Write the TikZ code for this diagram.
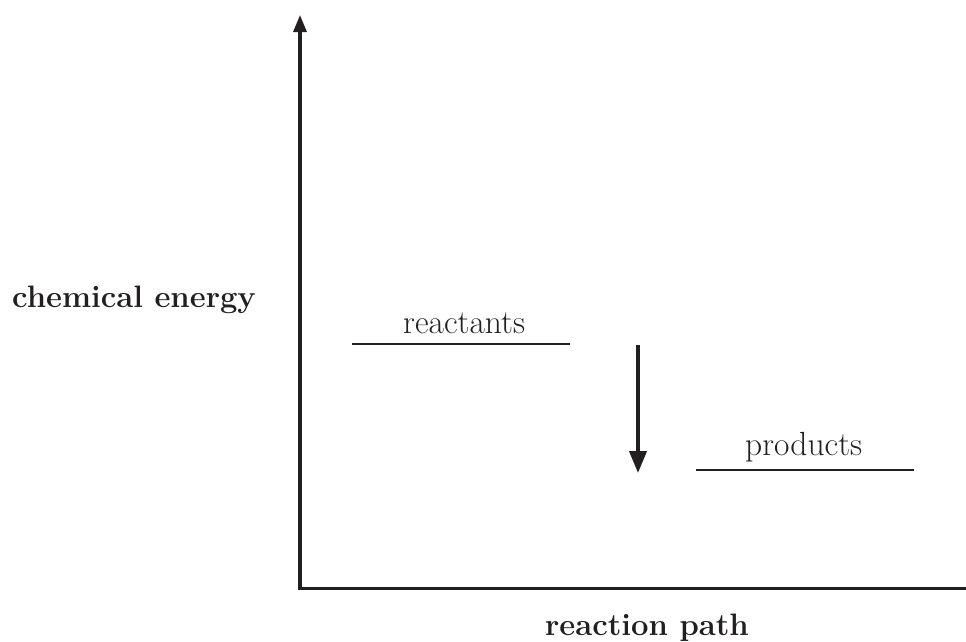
\documentclass[tikz,border=0pt]{standalone}
\usepackage{fontspec}
\usetikzlibrary{arrows.meta}
\definecolor{ink}{HTML}{231F20}
\tikzset{
  axis/.style={draw=ink, line width=3.2pt},
  level/.style={draw=ink, line width=1.5pt},
  lbl/.style={anchor=base west, inner sep=0pt, text=ink, font=\fontsize{33.5}{40}\selectfont},
  axlbl/.style={anchor=base west, inner sep=0pt, text=ink, font=\fontsize{31}{37}\selectfont\bfseries},
}
\begin{document}
\begin{tikzpicture}[x=1pt, y=-1pt]
\useasboundingbox (0,0) rectangle (966,641);
% axes
\coordinate (origin) at (300,588.5);
\coordinate (ytop) at (300,15);
\coordinate (xend) at (966,588.5);
\draw[axis, -{Triangle[width=13pt,length=17pt]}] (origin) -- (ytop);
\draw[axis] ([xshift=-1.6pt]origin) -- (xend);
% labels
\node[axlbl] (ylab) at (12,307) {chemical energy};
\node[axlbl] (xlab) at (545,635) {reaction path};
% levels
\coordinate (r1) at (352,344);
\coordinate (r2) at (570,344);
\coordinate (p1) at (696,470);
\coordinate (p2) at (914,470);
\draw[level] (r1) -- (r2);
\draw[level] (p1) -- (p2);
\node[lbl] (react) at (403,333) {reactants};
\node[lbl] (prod) at (745,455) {products};
% energy arrow
\coordinate (a1) at (638,345);
\coordinate (a2) at (638,473);
\draw[draw=ink, line width=4pt, -{Triangle[width=17pt,length=22pt]}] (a1) -- (a2);
\end{tikzpicture}
\end{document}
